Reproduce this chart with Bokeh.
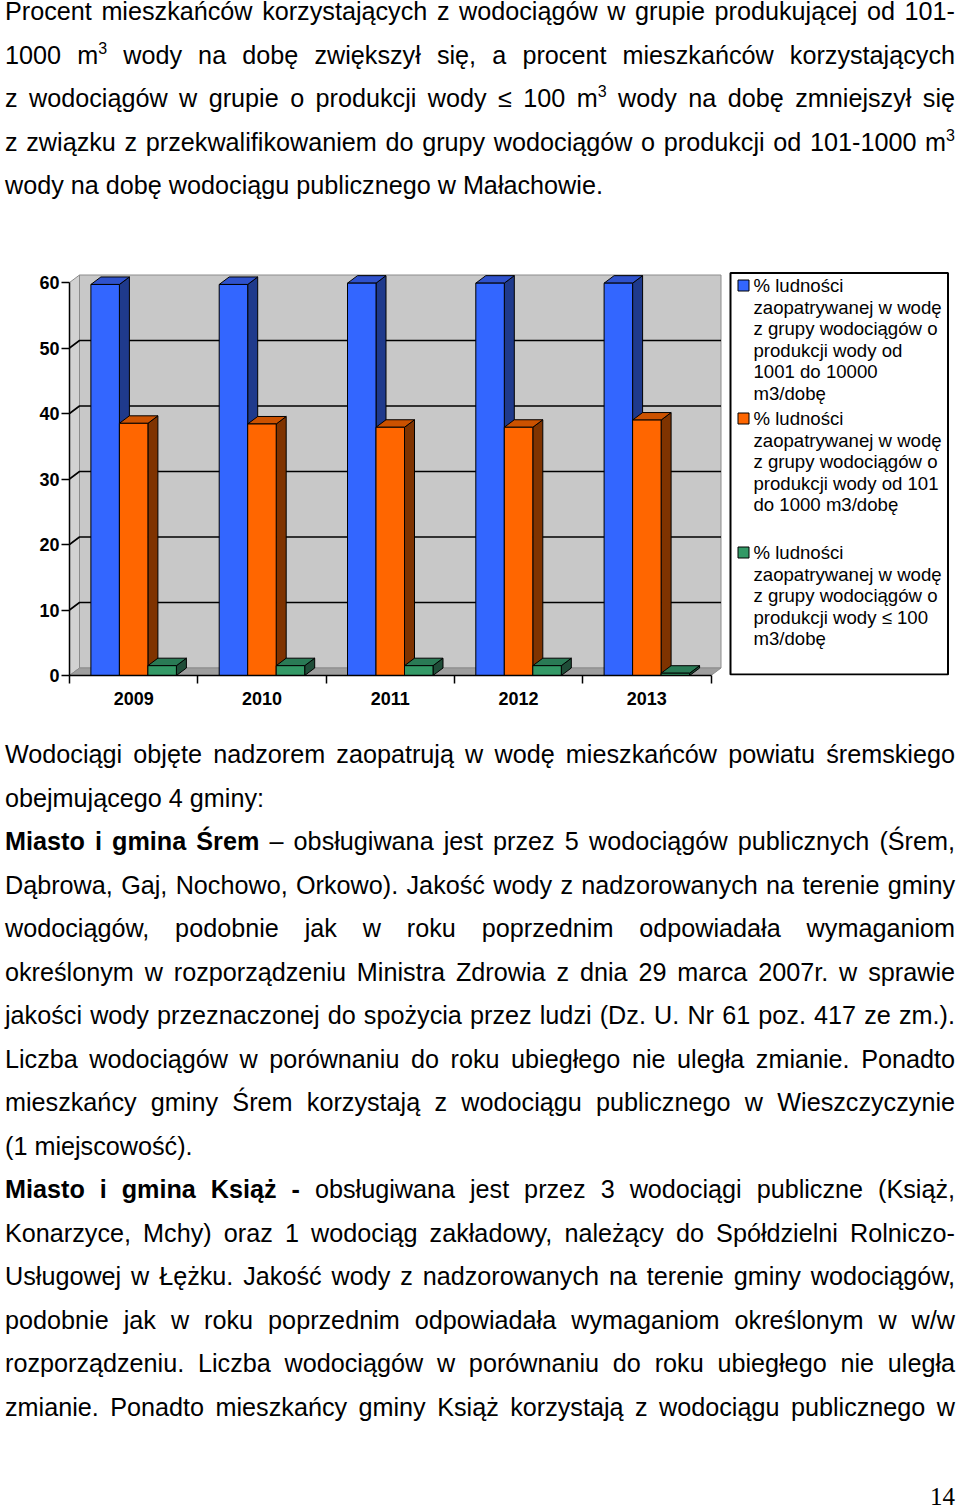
from bokeh.plotting import figure
from bokeh.models import Range1d, FixedTicker, Div
from bokeh.layouts import column, row
from bokeh.embed import file_html
from bokeh.resources import INLINE
from bokeh.core.properties import value

# ---------------- data ----------------
years = ["2009", "2010", "2011", "2012", "2013"]
pct_1001_10000 = [59.7, 59.7, 59.9, 59.9, 59.9]
pct_101_1000 = [38.5, 38.4, 37.9, 37.9, 39.0]
pct_le_100 = [1.5, 1.5, 1.5, 1.5, 0.35]
y_ticks = [0, 10, 20, 30, 40, 50, 60]

legend_1001_10000 = ["% ludności", "zaopatrywanej w wodę", "z grupy wodociągów  o",
                     "produkcji wody od", "1001 do 10000", "m3/dobę"]
legend_101_1000 = ["% ludności", "zaopatrywanej w wodę", "z grupy wodociągów o",
                   "produkcji wody od 101", "do 1000 m3/dobę"]
legend_le_100 = ["% ludności", "zaopatrywanej w wodę", "z grupy wodociągów  o",
                 "produkcji wody ≤ 100", "m3/dobę"]

SUP3 = '<sup style="font-size:16px;line-height:0;vertical-align:10px">3</sup>'
top_lines = [
    ("Procent mieszkańców korzystających z wodociągów w grupie produkującej od 101-", True),
    ("1000 m" + SUP3 + " wody na dobę zwiększył się, a procent mieszkańców korzystających", True),
    ("z wodociągów w grupie o produkcji wody ≤ 100 m" + SUP3 + " wody na dobę zmniejszył się", True),
    ("z związku z przekwalifikowaniem do grupy wodociągów o produkcji od 101-1000 m" + SUP3, True),
    ("wody na dobę wodociągu publicznego w Małachowie.", False),
]
bottom_lines = [
    ("Wodociągi objęte nadzorem zaopatrują w wodę mieszkańców powiatu śremskiego", True),
    ("obejmującego 4 gminy:", False),
    ("<b>Miasto i gmina Śrem</b> – obsługiwana jest przez 5 wodociągów publicznych (Śrem,", True),
    ("Dąbrowa, Gaj, Nochowo, Orkowo). Jakość wody z nadzorowanych na terenie gminy", True),
    ("wodociągów, podobnie jak w roku poprzednim odpowiadała wymaganiom", True),
    ("określonym w rozporządzeniu Ministra Zdrowia z dnia 29 marca 2007r. w sprawie", True),
    ("jakości wody przeznaczonej do spożycia przez ludzi (Dz. U. Nr 61 poz. 417 ze zm.).", True),
    ("Liczba wodociągów w porównaniu do roku ubiegłego nie uległa zmianie. Ponadto", True),
    ("mieszkańcy gminy Śrem korzystają z wodociągu publicznego w Wieszczyczynie", True),
    ("(1 miejscowość).", False),
    ("<b>Miasto i gmina Książ -</b> obsługiwana jest przez 3 wodociągi publiczne (Książ,", True),
    ("Konarzyce, Mchy) oraz 1 wodociąg zakładowy, należący do Spółdzielni Rolniczo-", True),
    ("Usługowej w Łężku. Jakość wody z nadzorowanych na terenie gminy wodociągów,", True),
    ("podobnie jak w roku poprzednim odpowiadała wymaganiom określonym w w/w", True),
    ("rozporządzeniu. Liczba wodociągów w porównaniu do roku ubiegłego nie uległa", True),
    ("zmianie. Ponadto mieszkańcy gminy Książ korzystają z wodociągu publicznego w", True),
]
page_number = "14"

# ---------------- styles ----------------
FONT = "Liberation Sans"
FW, FH = 653, 405          # frame size in px
BT, BB = 63, 58            # top / bottom borders of the chart
XPX, YPX = 128.3, 6.55     # px per category, px per percent
DX, DY = 10 / XPX, 7.5 / YPX   # 3D depth in data units
BW = 28.5 / XPX            # bar width
N = len(years)
ymax = y_ticks[-1]

series = [
    (pct_1001_10000, "#3366FF", "#2F52CC", "#1F3A8C", legend_1001_10000),
    (pct_101_1000, "#FF6600", "#CC5200", "#7F3300", legend_101_1000),
    (pct_le_100, "#339966", "#2A7A55", "#1F4D38", legend_le_100),
]
offsets = [-BW, 0.0, BW]

p = figure(frame_width=FW, frame_height=FH,
           x_range=Range1d(0, FW / XPX), y_range=Range1d(0, FH / YPX),
           min_border_left=61, min_border_right=0, min_border_top=BT, min_border_bottom=BB,
           output_backend="svg", toolbar_location=None)
p.outline_line_color = None
p.xgrid.visible = False
p.ygrid.visible = False

# walls and floor
p.quad(left=DX, right=N + DX, bottom=DY, top=ymax + DY,
       fill_color="#C8C8C8", line_color="#8C8C8C", line_width=1)
p.patch(x=[0, DX, DX, 0], y=[0, DY, ymax + DY, ymax],
        fill_color="#D2D2D2", line_color="#8C8C8C", line_width=1)
p.patch(x=[0, N, N + DX, DX], y=[0, 0, DY, DY],
        fill_color="#9E9E9E", line_color="#8C8C8C", line_width=1)
grid_vals = y_ticks[1:-1]
p.multi_line(xs=[[0, DX, N + DX] for _ in grid_vals],
             ys=[[g, g + DY, g + DY] for g in grid_vals],
             line_color="black", line_width=1.6)

# 3D bars
for (vals, front, topc, side, _), off in zip(series, offsets):
    xc = [i + 0.5 + off for i in range(N)]
    xl = [c - BW / 2 for c in xc]
    xr = [c + BW / 2 for c in xc]
    p.patches(xs=[[r, r + DX, r + DX, r] for r in xr],
              ys=[[0, DY, v + DY, v] for v in vals],
              fill_color=side, line_color="black", line_width=1)
    p.patches(xs=[[l, l + DX, r + DX, r] for l, r in zip(xl, xr)],
              ys=[[v, v + DY, v + DY, v] for v in vals],
              fill_color=topc, line_color="black", line_width=1)
    p.vbar(x=xc, top=vals, bottom=0, width=BW,
           fill_color=front, line_color="black", line_width=1)

# axes
xa = p.xaxis[0]
xa.ticker = FixedTicker(ticks=[i + 0.5 for i in range(N)], minor_ticks=list(range(N + 1)))
xa.major_label_overrides = {i + 0.5: y for i, y in enumerate(years)}
xa.bounds = (0, N)
xa.major_tick_out = 0
xa.major_tick_in = 0
xa.minor_tick_out = 8
xa.minor_tick_in = 0
xa.minor_tick_line_color = "black"
xa.minor_tick_line_width = 1.5
xa.major_label_standoff = 8

ya = p.yaxis[0]
ya.ticker = FixedTicker(ticks=y_ticks, minor_ticks=[])
ya.bounds = (0, ymax)
ya.major_tick_out = 8
ya.major_tick_in = 0
ya.minor_tick_out = 0
ya.minor_tick_in = 0
ya.major_label_standoff = 2

for ax in (xa, ya):
    ax.axis_line_color = "black"
    ax.axis_line_width = 1.5
    ax.major_tick_line_color = "black"
    ax.major_tick_line_width = 1.5
    ax.major_label_text_font = FONT
    ax.major_label_text_font_size = "18px"
    ax.major_label_text_font_style = "bold"
    ax.major_label_text_color = "black"

# legend panel (its frame is aligned with the chart frame; coordinates are page pixels)
LX0, LW = 722, 230
FRAME_TOP = 270
lg = figure(frame_width=LW, frame_height=FH,
            x_range=Range1d(LX0, LX0 + LW), y_range=Range1d(FRAME_TOP + FH, FRAME_TOP),
            min_border_left=0, min_border_right=0, min_border_top=BT, min_border_bottom=BB,
            output_backend="svg", toolbar_location=None)
lg.axis.visible = False
lg.xgrid.visible = False
lg.ygrid.visible = False
lg.outline_line_color = None
lg.quad(left=730, right=947.5, top=272.5, bottom=674, fill_color="white",
        line_color="black", line_width=2)
entry_starts = [285, 418, 552]
LINE_H = 21.5
tx, ty, tt = [], [], []
mx, my, mc = [], [], []
for (_, front, _, _, lines), y0 in zip(series, entry_starts):
    mx.append(743)
    my.append(y0)
    mc.append(front)
    for k, t in enumerate(lines):
        tx.append(753)
        ty.append(y0 + k * LINE_H)
        tt.append(t)
lg.scatter(x=mx, y=my, marker="square", size=11, fill_color=mc, line_color="black", line_width=1)
lg.text(x=tx, y=ty, text=tt, text_font=value(FONT), text_font_size="18.6px",
        text_baseline="middle", text_align="left", text_color="black")


# text blocks
def block(lines):
    out = []
    for h, j in lines:
        al = "justify" if j else "left"
        out.append(f'<div style="height:43.5px;line-height:43.5px;white-space:nowrap;'
                   f'text-align:{al};text-align-last:{al};">{h}</div>')
    return (f'<div style="font-family:\'{FONT}\',Arial,sans-serif;font-size:25.2px;color:#000;'
            f'width:950px;">' + "".join(out) + '</div>')


top_div = Div(text=block(top_lines), width=950, height=217, margin=(-10, 0, 0, 5))
chart_row = row(p, lg, margin=(0, 0, 0, 8))
bottom_div = Div(text=block(bottom_lines), width=950, height=696, margin=(0, 0, 0, 5))
pn_div = Div(text=(f'<div style="position:relative;width:947px;height:72px;">'
                   f'<span style="position:absolute;right:0;top:56px;line-height:24px;'
                   f'font-family:\'Liberation Serif\',serif;font-size:25px;color:#000;">'
                   f'{page_number}</span></div>'),
             width=947, height=72, margin=(0, 0, 0, 8))

layout = column(top_div, chart_row, bottom_div, pn_div)
open("out.html", "w").write(file_html(layout, INLINE))
